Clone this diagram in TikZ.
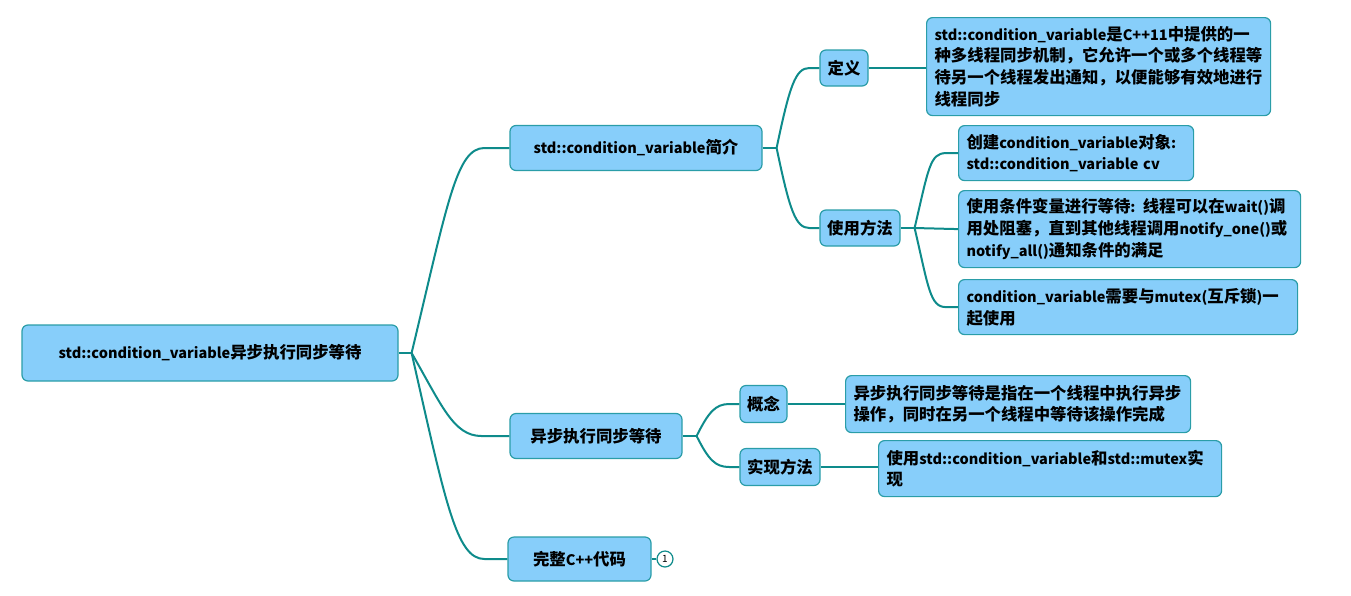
\documentclass[tikz,border=0pt]{standalone}
\usepackage{fontspec}
\setmainfont{Noto Sans CJK SC}
\newfontfamily\latf{Noto Sans CJK SC}
\newfontfamily\cjkf{Noto Sans CJK SC}[Scale=1.13]
\newXeTeXintercharclass\mycjkclass
\newcount\mycjkcnt
\mycjkcnt="4E00
\loop
  \XeTeXcharclass\mycjkcnt=\mycjkclass
  \advance\mycjkcnt by 1
\ifnum\mycjkcnt<"A000 \repeat
\XeTeXcharclass"FF0C=\mycjkclass
\XeTeXcharclass"3002=\mycjkclass
\XeTeXinterchartokenstate=1
\XeTeXinterchartoks 0 \mycjkclass {\cjkf}
\XeTeXinterchartoks 4095 \mycjkclass {\cjkf}
\XeTeXinterchartoks \mycjkclass 0 {\latf}
\XeTeXinterchartoks 4095 0 {\latf}
\begin{document}
\begin{tikzpicture}[x=1pt,y=-1pt,
  box/.style={draw=boxline, fill=boxfill, line width=1.2pt, rounded corners=6pt,
    font=\bfseries\fontsize{14.5}{21.7}\selectfont, text=black, inner sep=0pt, align=left},
  conn/.style={draw=connc, line width=2pt},
  markc/.style={draw=connc, fill=white, circle, line width=1.2pt, inner sep=0pt, minimum size=16pt, font=\fontsize{10}{10}\selectfont}
]
\definecolor{boxfill}{HTML}{87CEFA}
\definecolor{boxline}{HTML}{2A9DA8}
\definecolor{connc}{HTML}{0E8B8B}
\useasboundingbox (0,0) rectangle (1351,595);

% root
\node[box, minimum width=376pt, minimum height=56pt, align=center] (root) at (210,353) {std::condition\_variable异步执行同步等待};

% level 1
\node[box, minimum width=252pt, minimum height=45pt, align=center] (intro) at (636,148) {std::condition\_variable简介};
\node[box, minimum width=172pt, minimum height=45pt, align=center] (async) at (596,436) {异步执行同步等待};
\node[box, minimum width=143pt, minimum height=44pt, align=center] (code) at (579.5,559) {完整C++代码};
\node[markc] (mark) at (665,559) {1};

% level 2
\node[box, minimum width=48pt, minimum height=36pt, align=center] (def) at (844,68) {定义};
\node[box, minimum width=80pt, minimum height=36pt, align=center] (use) at (860,228) {使用方法};
\node[box, minimum width=47pt, minimum height=37pt, align=center] (concept) at (763.5,404) {概念};
\node[box, minimum width=80pt, minimum height=37pt, align=center] (impl) at (780,467) {实现方法};

% level 3
\node[box, anchor=north west, minimum width=344pt, minimum height=98pt, text width=328pt, inner xsep=8pt] (defd) at (926,17)
  {std::condition\_variable是C++11中提供的一\\种多线程同步机制，它允许一个或多个线程等\\待另一个线程发出通知，以便能够有效地进行\\线程同步};
\node[box, anchor=north west, minimum width=235pt, minimum height=55pt, text width=219pt, inner xsep=8pt] (u1) at (958,125)
  {创建condition\_variable对象:\\std::condition\_variable cv};
\node[box, anchor=north west, minimum width=342pt, minimum height=77pt, text width=326pt, inner xsep=8pt] (u2) at (958,190)
  {使用条件变量进行等待: 线程可以在wait()调\\用处阻塞，直到其他线程调用notify\_one()或\\notify\_all()通知条件的满足};
\node[box, anchor=north west, minimum width=339pt, minimum height=55pt, text width=323pt, inner xsep=8pt] (u3) at (958,279)
  {condition\_variable需要与mutex(互斥锁)一\\起使用};
\node[box, anchor=north west, minimum width=345pt, minimum height=57pt, text width=329pt, inner xsep=8pt] (c1) at (845,375)
  {异步执行同步等待是指在一个线程中执行异步\\操作，同时在另一个线程中等待该操作完成};
\node[box, anchor=north west, minimum width=343pt, minimum height=56pt, text width=327pt, inner xsep=8pt] (i1) at (878,440)
  {使用std::condition\_variable和std::mutex实\\现};

% junctions
\coordinate (j0) at ([xshift=13pt]root.east);
\coordinate (j1) at ([xshift=14pt]intro.east);
\coordinate (j2) at ([xshift=14pt]use.east);
\coordinate (j3) at ([xshift=14pt]async.east);

\begin{scope}[conn]
\draw (root.east) -- (j0);
\draw (j0) .. controls +(36,-150) and +(-28,0) .. ([xshift=-25pt]intro.west) -- (intro.west);
\draw (j0) .. controls +(30,52) and +(-28,0) .. ([xshift=-28pt]async.west) -- (async.west);
\draw (j0) .. controls +(34,150) and +(-28,0) .. ([xshift=-23pt]code.west) -- (code.west);
\draw (code.east) -- (mark.west);

\draw (intro.east) -- (j1);
\draw (j1) .. controls +(13,-62) and +(-14,0) .. ([xshift=-10pt]def.west) -- (def.west);
\draw (j1) .. controls +(13,62) and +(-14,0) .. ([xshift=-10pt]use.west) -- (use.west);
\draw (def.east) -- (defd.west |- def.east);

\draw (use.east) -- (j2);
\draw (j2) .. controls +(14,-60) and +(-16,0) .. ([xshift=-12pt]u1.west) -- (u1.west);
\draw (j2) -- (u2.west);
\draw (j2) .. controls +(14,60) and +(-16,0) .. ([xshift=-12pt]u3.west) -- (u3.west);

\draw (async.east) -- (j3);
\draw (j3) .. controls +(12,-24) and +(-14,0) .. ([xshift=-10pt]concept.west) -- (concept.west);
\draw (j3) .. controls +(12,24) and +(-14,0) .. ([xshift=-10pt]impl.west) -- (impl.west);
\draw (concept.east) -- (c1.west |- concept.east);
\draw (impl.east) -- (i1.west |- impl.east);
\end{scope}
\end{tikzpicture}
\end{document}
